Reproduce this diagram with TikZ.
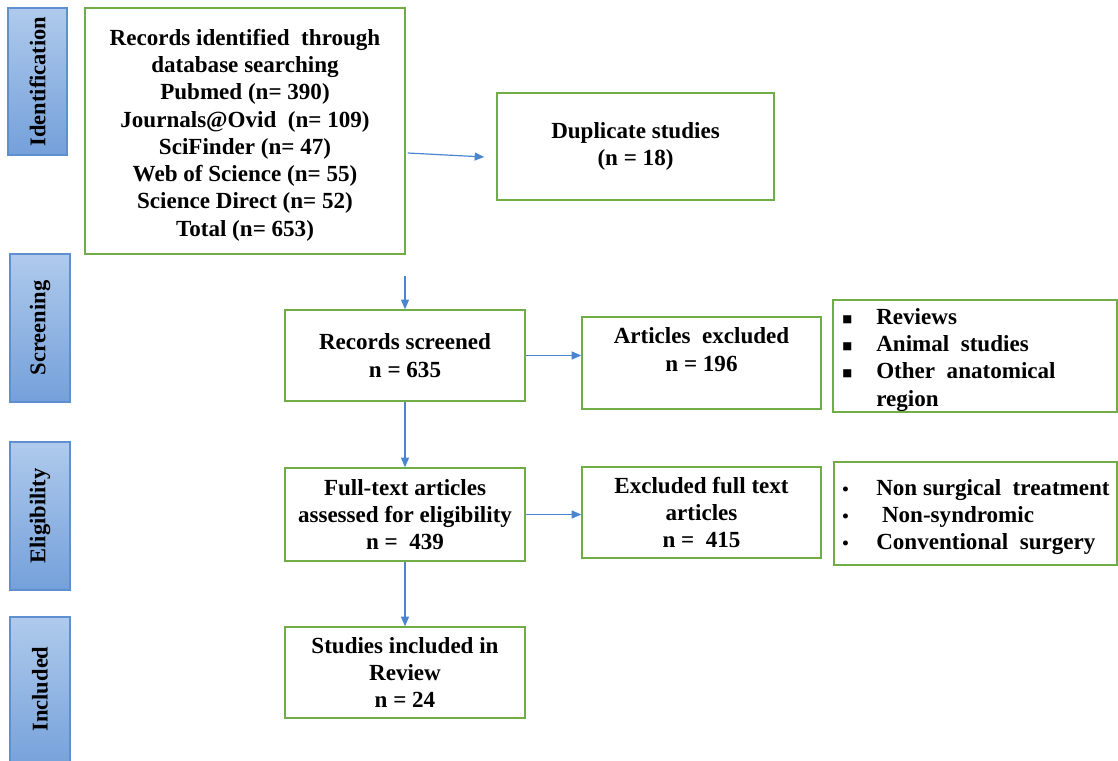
\documentclass[tikz,border=0pt]{standalone}
\usepackage{fontspec}
\setmainfont{Liberation Serif}
\newfontfamily\dejavu{DejaVu Sans}
\usetikzlibrary{arrows.meta,positioning,calc}
\definecolor{cG}{HTML}{70AD47}
\definecolor{cB}{HTML}{4A86D0}
\definecolor{cT}{HTML}{AFCAEC}
\definecolor{cS}{HTML}{74A0DA}
\definecolor{cE}{HTML}{5F8FD0}
\newcommand{\sqbul}{{\dejavu\fontsize{7.5}{7.5}\selectfont\raisebox{1.5pt}{■}}}
\newcommand{\rdbul}{{\fontsize{13}{13}\selectfont •}}
\tikzset{
  stage/.style={draw=cE,line width=0.8pt,top color=cT,bottom color=cS,
                minimum width=1.5cm,minimum height=3.7cm,inner sep=0pt},
  stagetext/.style={rotate=90,font=\fontsize{16}{19}\selectfont\bfseries},
  box/.style={draw=cG,line width=1pt,align=center,inner sep=2pt,
              font=\fontsize{16.4}{19.4}\selectfont\bfseries},
  txt/.style={align=center,inner sep=0pt,
              font=\fontsize{16.4}{19.4}\selectfont\bfseries},
  flow/.style={-{Triangle[length=2.4mm,width=2mm]},line width=0.85pt,cB},
}
\begin{document}
\begin{tikzpicture}[x=0.025cm,y=-0.025cm]
  \useasboundingbox (0,0) rectangle (1118,761);
  % stage labels on the left
  \node[stage,minimum width=1.475cm,minimum height=3.675cm](sId) at (37.5,81.5){};
  \node[stagetext] at (sId){Identification};
  \node[stage](sSc) at (40,328){};
  \node[stagetext] at (sSc){Screening};
  \node[stage](sEl) at (40,516){};
  \node[stagetext] at (sEl){Eligibility};
  \node[stage,minimum height=3.85cm](sIn) at (40,694){};
  \node[stagetext] at (40,689){Included};
  % flow boxes
  \node[box,minimum width=8cm,minimum height=6.15cm](rec) at (245,131){};
  \node[txt](recT) at (245,135)
    {Records identified\ \ through\\database searching\\Pubmed (n= 390)\\
     Journals@Ovid\ \ (n= 109)\\SciFinder (n= 47)\\Web of Science (n= 55)\\
     Science Direct (n= 52)\\Total (n= 653)};
  \node[box,minimum width=6.925cm,minimum height=2.675cm](dup) at (635.5,146.5)
    {Duplicate studies\\(n = 18)};
  \node[box,minimum width=6cm,minimum height=2.275cm](scr) at (405,355.5)
    {Records screened\\n = 635};
  \node[box,minimum width=5.975cm,minimum height=2.3cm](exc) at (701.5,363){};
  \node[txt](excT) at (701.5,349.5){Articles\ \ excluded\\n = 196};
  \node[box,minimum width=7.1cm,minimum height=2.8cm](rev) at (975,356){};
  \node[txt,align=left,anchor=north west](revT) at (842,305)
    {\begin{tabular}{@{}p{0.85cm}@{}l@{}}
      \sqbul & Reviews\\
      \sqbul & Animal\ \ studies\\
      \sqbul & Other\ \ anatomical\\
             & region
     \end{tabular}};
  \node[box,minimum width=6cm,minimum height=2.325cm](ful) at (405,514.5)
    {Full-text articles\\assessed for eligibility\\n =\ \ 439};
  \node[box,minimum width=5.975cm,minimum height=2.275cm](exf) at (701.5,512.5)
    {Excluded full text\\articles\\n =\ \ 415};
  \node[box,minimum width=7.075cm,minimum height=2.575cm](nsg) at (975.5,513.5){};
  \node[txt,align=left,anchor=north west](nsgT) at (842,476)
    {\begin{tabular}{@{}p{0.85cm}@{}l@{}}
      \rdbul & Non surgical\ \ treatment\\
      \rdbul & \ Non-syndromic\\
      \rdbul & Conventional\ \ surgery
     \end{tabular}};
  \node[box,minimum width=6cm,minimum height=2.275cm](inc) at (405,672.5)
    {Studies included in\\Review\\n = 24};
  % connectors
  \coordinate (s0) at (405,276);
  \draw[flow] ([shift={(2,22)}]rec.east) -- ([shift={(-12,10.5)}]dup.west);
  \draw[flow] (s0) -- (scr.north);
  \draw[flow] (scr.east) -- (exc.west |- scr.east);
  \draw[flow] (scr.south) -- (ful.north);
  \draw[flow] (ful.east) -- (exf.west |- ful.east);
  \draw[flow] (ful.south) -- (inc.north);
\end{tikzpicture}
\end{document}
